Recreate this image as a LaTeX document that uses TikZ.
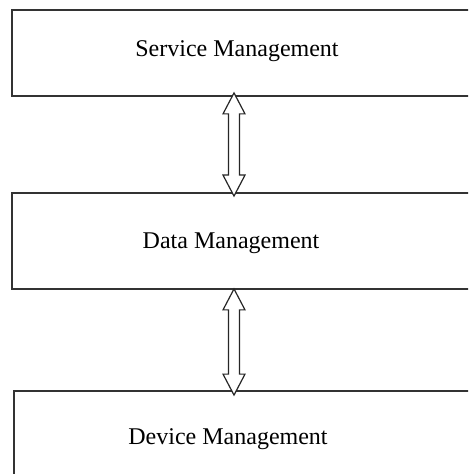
\documentclass[tikz,border=0pt]{standalone}
\usepackage{fontspec}
\setmainfont{Liberation Serif}
\usetikzlibrary{calc}
\begin{document}
\begin{tikzpicture}[x=0.5pt, y=-0.5pt,
    layer/.style={draw=black!80, line width=0.9pt, inner sep=0pt},
    caption/.style={anchor=base, font=\fontsize{12}{14}\selectfont},
    twoway/.style={draw=black!85, line width=0.6pt, fill=white, line join=miter}]
    \clip (0,0) rectangle (468,474);

    % Layers
    \node[layer, minimum width=234pt, minimum height=43pt] (service) at (246,53) {};
    \node[layer, minimum width=234pt, minimum height=48pt] (data) at (246,241) {};
    \node[layer, minimum width=232pt, minimum height=50pt] (device) at (246,441) {};

    % Texts
    \node[caption] (servicetext) at (237,57) {Service Management};
    \node[caption] (datatext) at (231,249) {Data Management};
    \node[caption] (devicetext) at (228,444) {Device Management};

    % Block arrows between layers
    \foreach \from/\to/\up/\down in {service/data/2/2, data/device/0.5/2.5} {
        \coordinate (tip1) at ([xshift=-6pt,yshift=\up pt]\from.south);
        \coordinate (tip2) at ([xshift=-6pt,yshift=-\down pt]\to.north);
        \draw[twoway] (tip1) -- ++(11,21) -- ++(-5.5,0) -- ($(tip2)+(5.5,-21)$)
            -- ++(5.5,0) -- (tip2) -- ++(-11,-21) -- ++(5.5,0)
            -- ($(tip1)+(-5.5,21)$) -- ++(-5.5,0) -- cycle;
    }
\end{tikzpicture}
\end{document}
